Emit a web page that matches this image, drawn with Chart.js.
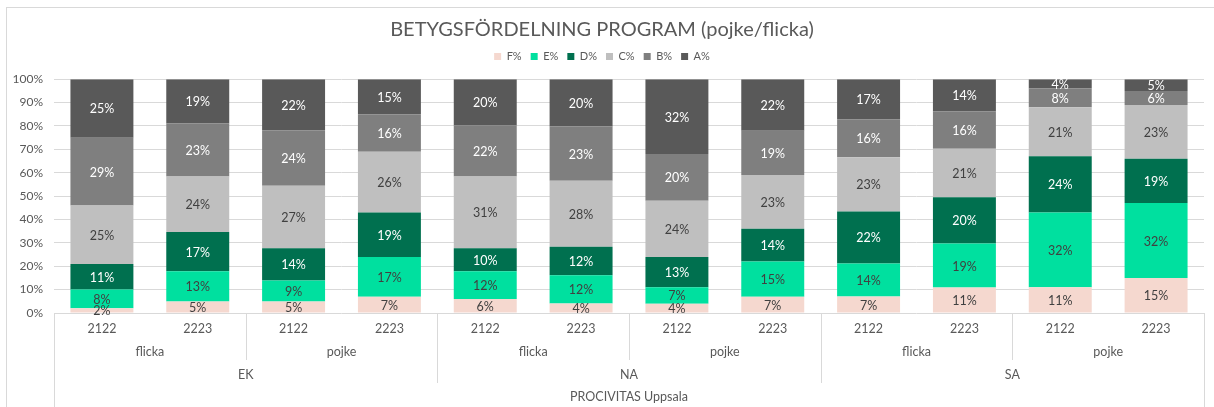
<!DOCTYPE html>
<html>
<head>
<meta charset="utf-8">
<script src="https://cdn.jsdelivr.net/npm/chart.js@4/dist/chart.umd.min.js"></script>
<style>
  html, body { margin: 0; padding: 0; background: #ffffff; }
  #wrap { width: 1214px; height: 407px; position: relative; }
</style>
</head>
<body>
<div id="wrap"><canvas id="c" width="1214" height="407"></canvas></div>
<script>
// ---- data ----
const school = 'PROCIVITAS Uppsala';
const programs = ['EK', 'NA', 'SA'];
const genders = ['flicka', 'pojke'];
const years = ['2122', '2223'];
const gradeLabels = ['F%', 'E%', 'D%', 'C%', 'B%', 'A%'];
// one value per bar, bar order: EK flicka 2122, EK flicka 2223, EK pojke 2122, ... SA pojke 2223
const gradeF = [2, 5, 5, 7, 6, 4, 4, 7, 7, 11, 11, 15];
const gradeE = [8, 13, 9, 17, 12, 12, 7, 15, 14, 19, 32, 32];
const gradeD = [11, 17, 14, 19, 10, 12, 13, 14, 22, 20, 24, 19];
const gradeC = [25, 24, 27, 26, 31, 28, 24, 23, 23, 21, 21, 23];
const gradeB = [29, 23, 24, 16, 22, 23, 20, 19, 16, 16, 8, 6];
const gradeA = [25, 19, 22, 15, 20, 20, 32, 22, 17, 14, 4, 5];
const tickValues = [0, 10, 20, 30, 40, 50, 60, 70, 80, 90, 100];

// ---- styles ----
const FONT = "'Lato', 'Open Sans', sans-serif";
const TEXT = '#595959';
const LINE = '#D9D9D9';
const colors = ['#F5D8CF', '#00E09F', '#00704F', '#BFBFBF', '#7F7F7F', '#595959'];
const labelColors = ['#404040', '#404040', '#ffffff', '#404040', '#ffffff', '#ffffff'];

// categories built from the levels
const categories = [];
programs.forEach(p => genders.forEach(g => years.forEach(y => categories.push({p, g, y}))));
const series = [gradeF, gradeE, gradeD, gradeC, gradeB, gradeA];
const totals = categories.map((_, i) => series.reduce((s, arr) => s + arr[i], 0));

const datasets = series.map((arr, k) => ({
  label: gradeLabels[k],
  data: arr.map((v, i) => v / totals[i] * 100),
  raw: arr,
  backgroundColor: colors[k],
  borderWidth: 0,
  barPercentage: 0.657,
  categoryPercentage: 1.0
}));

const frame = {
  id: 'frame',
  beforeDraw(chart) {
    const ctx = chart.ctx;
    ctx.save();
    ctx.strokeStyle = LINE;
    ctx.lineWidth = 1;
    ctx.strokeRect(6.5, 7.5, 1400, 600);
    ctx.restore();
  }
};

const barLabels = {
  id: 'barLabels',
  afterDatasetsDraw(chart) {
    const ctx = chart.ctx;
    ctx.save();
    ctx.font = '12.5px ' + FONT;
    ctx.textAlign = 'center';
    ctx.textBaseline = 'middle';
    chart.data.datasets.forEach((ds, k) => {
      const meta = chart.getDatasetMeta(k);
      meta.data.forEach((el, i) => {
        const yMid = (el.y + el.base) / 2;
        ctx.fillStyle = labelColors[k];
        ctx.fillText(ds.raw[i] + '%', el.x, yMid + 1);
      });
    });
    ctx.restore();
  }
};

const multiAxis = {
  id: 'multiAxis',
  afterDraw(chart) {
    const xs = chart.scales.x;
    const ctx = chart.ctx;
    const top = xs.top;
    const bottom = chart.height;
    const px = v => Math.round(xs.getPixelForValue(v)) + 0.5;
    ctx.save();
    ctx.strokeStyle = LINE;
    ctx.lineWidth = 1;
    const vline = (x, y2) => { ctx.beginPath(); ctx.moveTo(x, top); ctx.lineTo(x, y2); ctx.stroke(); };
    const n = categories.length;
    const perGender = years.length;
    const perProgram = genders.length * years.length;
    for (let b = 0; b <= n; b++) {
      const x = px(b - 0.5);
      if (b === 0 || b === n) vline(x, bottom);
      else if (b % perProgram === 0) vline(x, top + 70);
      else if (b % perGender === 0) vline(x, top + 47);
    }
    ctx.fillStyle = TEXT;
    ctx.font = '12.5px ' + FONT;
    ctx.textAlign = 'center';
    ctx.textBaseline = 'middle';
    categories.forEach((c, i) => ctx.fillText(c.y, xs.getPixelForValue(i), top + 16));
    for (let g = 0; g < n / perGender; g++) {
      const c = categories[g * perGender];
      const mid = xs.getPixelForValue(g * perGender + (perGender - 1) / 2);
      ctx.fillText(c.g, mid, top + 39);
    }
    for (let p = 0; p < n / perProgram; p++) {
      const c = categories[p * perProgram];
      const mid = xs.getPixelForValue(p * perProgram + (perProgram - 1) / 2);
      ctx.fillText(c.p, mid, top + 62);
    }
    ctx.fillText(school, xs.getPixelForValue((n - 1) / 2), top + 84);
    ctx.restore();
  }
};

new Chart(document.getElementById('c'), {
  type: 'bar',
  data: { labels: categories.map(c => c.y), datasets },
  options: {
    responsive: false,
    animation: false,
    events: [],
    layout: { padding: { top: 10, right: 10, bottom: 0, left: 0 } },
    plugins: {
      title: {
        display: true,
        text: 'BETYGSFÖRDELNING PROGRAM (pojke/flicka)',
        color: TEXT,
        font: { family: FONT, size: 20, weight: 'normal' },
        padding: { top: 8, bottom: 0 }
      },
      legend: {
        display: true,
        position: 'top',
        weight: 1000,
        labels: {
          color: TEXT,
          font: { family: FONT, size: 11 },
          boxWidth: 7,
          boxHeight: 7,
          padding: 9
        }
      },
      subtitle: {
        display: true,
        position: 'top',
        weight: 500,
        text: ' ',
        font: { size: 1 },
        padding: { top: 0, bottom: 6 }
      },
      tooltip: { enabled: false }
    },
    scales: {
      x: {
        stacked: true,
        offset: true,
        grid: { display: false },
        border: { display: false },
        ticks: { display: false },
        afterFit(scale) { scale.height = 94; }
      },
      y: {
        stacked: true,
        min: 0,
        max: 100,
        afterBuildTicks(scale) { scale.ticks = tickValues.map(v => ({ value: v })); },
        ticks: {
          color: TEXT,
          font: { family: FONT, size: 12 },
          padding: 11,
          callback: v => v + '%'
        },
        grid: { color: LINE, lineWidth: 1, drawTicks: false },
        border: { display: false },
        afterFit(scale) { scale.width = 54; }
      }
    }
  },
  plugins: [frame, barLabels, multiAxis]
});
</script>
</body>
</html>
